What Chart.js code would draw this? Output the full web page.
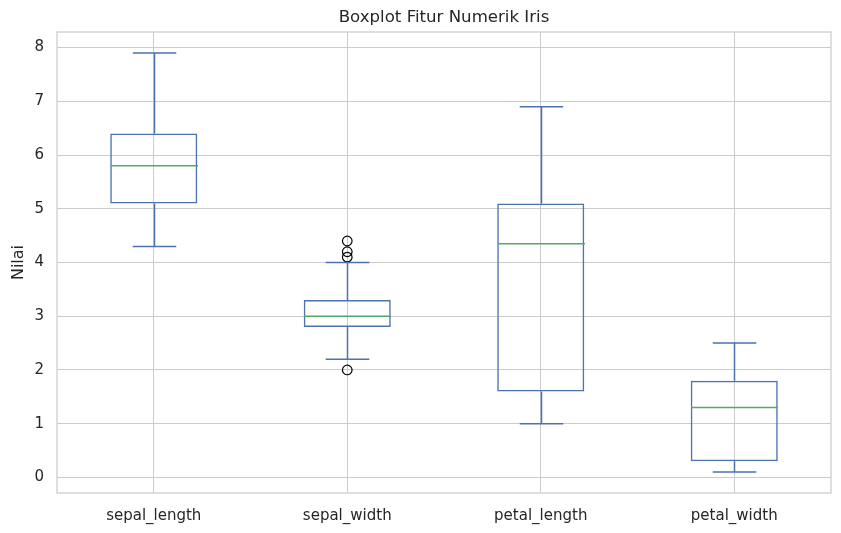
<!DOCTYPE html>
<html lang="en">
<head>
    <meta charset="UTF-8">
    <title>Boxplot Fitur Numerik Iris</title>
    <script src="https://cdn.jsdelivr.net/npm/chart.js"></script>
    <style>
        body { margin: 0; background: #fff; }
        #wrap { width: 841px; height: 533px; }
    </style>
</head>
<body>
    <div id="wrap"><canvas id="boxChart"></canvas></div>

    <script>
        // box statistics per feature
        const features = ['sepal_length', 'sepal_width', 'petal_length', 'petal_width'];
        const whiskerLow = [4.3, 2.2, 1.0, 0.1];
        const q1 = [5.1, 2.8, 1.6, 0.3];
        const median = [5.8, 3.0, 4.35, 1.3];
        const q3 = [6.4, 3.3, 5.1, 1.8];
        const whiskerHigh = [7.9, 4.0, 6.9, 2.5];
        // outliers (feature, value)
        const outlierFeature = ['sepal_width', 'sepal_width', 'sepal_width', 'sepal_width'];
        const outlierValue = [4.4, 4.1, 4.2, 2.0];
        const yTicks = [0, 1, 2, 3, 4, 5, 6, 7, 8];
        const chartTitle = 'Boxplot Fitur Numerik Iris';

        const BLUE = '#4c72b0';
        const GREEN = '#55a868';
        const GRID = '#cccccc';
        const TEXT = '#262626';

        // whiskers, caps, medians, frame and title (centred on plot area)
        const boxPlugin = {
            id: 'boxParts',
            beforeDatasetsDraw(chart) {
                const a = chart.chartArea;
                const ctx = chart.ctx;
                ctx.save();
                ctx.strokeStyle = GRID;
                ctx.lineWidth = 1.25;
                ctx.strokeRect(a.left, a.top, a.right - a.left, a.bottom - a.top);
                ctx.restore();
            },
            afterDatasetsDraw(chart) {
                const ctx = chart.ctx;
                const x = chart.scales.x;
                const y = chart.scales.y;
                const boxW = (x.getPixelForValue(1) - x.getPixelForValue(0)) * 0.45;
                ctx.save();
                ctx.lineWidth = 1.5;
                features.forEach((f, i) => {
                    const cx = Math.round(x.getPixelForValue(i)) + 0.5;
                    ctx.strokeStyle = BLUE;
                    ctx.beginPath();
                    ctx.moveTo(cx, y.getPixelForValue(q3[i]));
                    ctx.lineTo(cx, y.getPixelForValue(whiskerHigh[i]));
                    ctx.moveTo(cx, y.getPixelForValue(q1[i]));
                    ctx.lineTo(cx, y.getPixelForValue(whiskerLow[i]));
                    ctx.moveTo(cx - boxW / 4, y.getPixelForValue(whiskerHigh[i]));
                    ctx.lineTo(cx + boxW / 4, y.getPixelForValue(whiskerHigh[i]));
                    ctx.moveTo(cx - boxW / 4, y.getPixelForValue(whiskerLow[i]));
                    ctx.lineTo(cx + boxW / 4, y.getPixelForValue(whiskerLow[i]));
                    ctx.stroke();
                    ctx.strokeStyle = GREEN;
                    ctx.beginPath();
                    ctx.moveTo(cx - boxW / 2, y.getPixelForValue(median[i]));
                    ctx.lineTo(cx + boxW / 2, y.getPixelForValue(median[i]));
                    ctx.stroke();
                });
                ctx.restore();
            },
            afterDraw(chart) {
                const a = chart.chartArea;
                const ctx = chart.ctx;
                ctx.save();
                ctx.fillStyle = TEXT;
                ctx.font = '16.6px "DejaVu Sans"';
                ctx.textAlign = 'center';
                ctx.textBaseline = 'middle';
                ctx.fillText(chartTitle, (a.left + a.right) / 2, 18);
                ctx.restore();
            }
        };

        const ctx = document.getElementById('boxChart').getContext('2d');
        new Chart(ctx, {
            data: {
                labels: features,
                datasets: [{
                    type: 'bar',
                    data: features.map((f, i) => [q1[i], q3[i]]),
                    backgroundColor: 'rgba(0,0,0,0)',
                    borderColor: BLUE,
                    borderWidth: 1.5,
                    borderSkipped: false,
                    barPercentage: 0.45,
                    categoryPercentage: 1
                }, {
                    type: 'line',
                    data: outlierFeature.map((f, i) => ({ x: f, y: outlierValue[i] })),
                    showLine: false,
                    pointStyle: 'circle',
                    pointRadius: 4.8,
                    pointBorderWidth: 1.2,
                    pointBorderColor: '#000000',
                    pointBackgroundColor: 'rgba(0,0,0,0)'
                }]
            },
            plugins: [boxPlugin],
            options: {
                responsive: true,
                maintainAspectRatio: false,
                animation: false,
                layout: { padding: { left: 0, right: 10, top: 32, bottom: 0 } },
                plugins: {
                    legend: { display: false },
                    tooltip: { enabled: false },
                    title: { display: false }
                },
                scales: {
                    x: {
                        type: 'category',
                        offset: true,
                        grid: { color: GRID, lineWidth: 1, offset: false, drawTicks: false },
                        border: { display: false },
                        ticks: { color: TEXT, padding: 14, font: { family: 'DejaVu Sans', size: 15 } },
                        afterFit(scale) { scale.height = 40; }
                    },
                    y: {
                        min: -0.29,
                        max: 8.29,
                        grid: { color: GRID, lineWidth: 1, drawTicks: false },
                        border: { display: false },
                        ticks: {
                            stepSize: 1,
                            includeBounds: false,
                            color: TEXT,
                            padding: 13,
                            font: { family: 'DejaVu Sans', size: 15 },
                            callback: v => yTicks.includes(v) ? v : ''
                        },
                        title: {
                            display: true,
                            text: 'Nilai',
                            color: TEXT,
                            font: { family: 'DejaVu Sans', size: 16 },
                            padding: { top: 9, bottom: 0 }
                        },
                        afterFit(scale) { scale.width = 57; }
                    }
                }
            }
        });
    </script>
</body>
</html>
